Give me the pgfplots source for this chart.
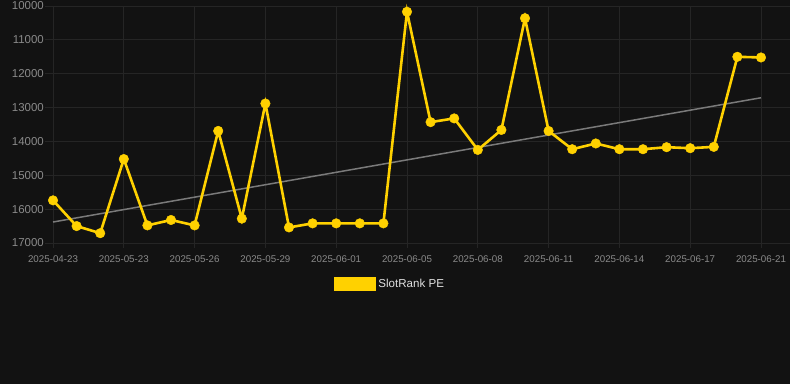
\documentclass[border=0pt]{standalone}
\usepackage{pgfplots}
\pgfplotsset{compat=1.18}
\usepackage{fontspec}
\setmainfont{Liberation Sans}
\definecolor{bg}{HTML}{121212}
\definecolor{gridc}{HTML}{252525}
\definecolor{ticklab}{HTML}{8A8A8A}
\definecolor{gold}{HTML}{FFD100}
\definecolor{trend}{HTML}{7A7A7A}
\definecolor{legtext}{HTML}{E0E0E0}
\pgfplotstableread{
x y
0 15740
1 16500
2 16710
3 14520
4 16480
5 16320
6 16480
7 13690
8 16280
9 12880
10 16540
11 16420
12 16420
13 16420
14 16420
15 10170
16 13430
17 13320
18 14250
19 13660
20 10360
21 13690
22 14230
23 14060
24 14230
25 14230
26 14170
27 14200
28 14160
29 11500
30 11520
}\datatable
\begin{document}
\begin{tikzpicture}
\fill[bg] (0,0) rectangle (790bp,384bp);
\begin{axis}[
  at={(45bp,141bp)}, anchor=south west,
  scale only axis, width=745bp, height=237bp,
  xmin=-0.34, xmax=31.23, ymin=10000, ymax=17000,
  y dir=reverse,
  clip=false,
  scaled y ticks=false,
  axis line style={draw=none},
  xtick pos=bottom, ytick pos=left,
  tick align=outside,
  major tick length=5bp,
  x tick style={gridc, line width=0.8bp},
  y tick style={draw=none},
  grid=major,
  grid style={gridc, line width=0.8bp},
  xtick={0,3,...,30},
  xticklabels={2025-04-23,2025-05-23,2025-05-26,2025-05-29,2025-06-01,2025-06-05,2025-06-08,2025-06-11,2025-06-14,2025-06-17,2025-06-21},
  ytick={10000,11000,...,17000},
  /pgf/number format/assume math mode=true,
  /pgf/number format/set thousands separator={},
  yticklabel style={font=\fontsize{11.5}{13}\selectfont, text=ticklab, inner sep=1bp, xshift=5bp},
  xticklabel style={font=\fontsize{9.8}{11}\selectfont, text=ticklab, yshift=-4bp},
  legend style={at={(0.463,-0.173)}, anchor=center, draw=none, fill=none,
    text=legtext, font=\fontsize{11.6}{13}\selectfont},
  legend image code/.code={\fill[gold] (0bp,-6bp) rectangle (40bp,6bp);},
]
\addplot[trend, line width=1.5bp, forget plot] coordinates {(0,16380) (30,12710)};
\addplot[gold, line width=2.6bp, mark=*, mark size=4.8bp, mark options={solid, fill=gold, draw=gold, line width=0.4bp}] table[x=x,y=y] {\datatable};
\addlegendentry{SlotRank PE}
\end{axis}
\pgfresetboundingbox
\path (0,0) rectangle (790bp,384bp);
\end{tikzpicture}
\end{document}
